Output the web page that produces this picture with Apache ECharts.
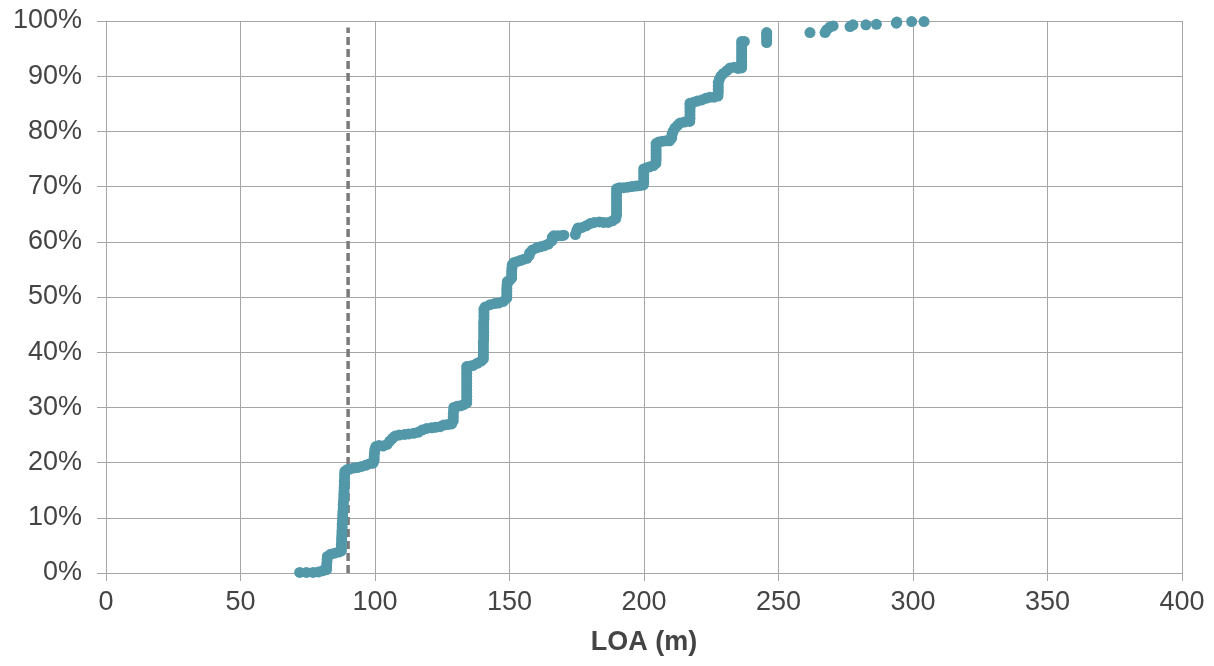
<!DOCTYPE html>
<html>
<head>
<meta charset="utf-8">
<script src="https://cdn.jsdelivr.net/npm/echarts@6/dist/echarts.min.js"></script>
<style>
  html, body { margin: 0; padding: 0; background: #fff; }
  #chart { width: 1214px; height: 666px; }
</style>
</head>
<body>
<div id="chart"></div>
<script>
// ship length (m) and cumulative share of ships (%)
const loa = [
  72.0, 74.5, 77.0, 79.0, 80.5, 82.0,
  82.0, 82.1, 82.2, 82.3, 83.5, 85.0, 86.5, 87.5,
  87.5, 87.5, 87.6, 87.6, 87.7, 87.7, 87.8, 87.8, 87.9, 88.0, 88.0, 88.1, 88.2, 88.2, 88.3, 88.4, 88.4, 88.5, 88.5, 88.6, 88.6, 88.7, 88.7, 88.8,
  89.5, 90.5, 92.0, 93.5, 95.0, 96.5, 98.0, 99.3,
  99.7, 99.7, 99.8, 99.9, 100.3, 101.5, 103.0, 104.5, 105.5, 106.5, 107.5, 109.0, 111.0, 112.5, 114.3, 116.0, 117.5, 119.2, 121.0, 122.5, 124.2, 125.5, 127.0, 128.5,
  129.1, 129.1, 129.1, 129.2, 129.3, 130.5, 131.8, 133.0, 134.1,
  134.1, 134.1, 134.1, 134.1, 134.1, 134.1, 134.1, 134.1, 134.1, 134.1, 134.1,
  135.5, 136.5, 138.0, 139.5, 140.3,
  140.3, 140.3, 140.3, 140.3, 140.3, 140.4, 140.4, 140.4, 140.4, 140.4, 140.4, 140.5, 140.5, 140.5, 140.5,
  141.0, 142.8, 144.5, 146.0, 147.7,
  149.0, 149.0, 149.0, 149.0, 149.1, 149.2, 150.0, 150.8, 150.8, 150.8, 150.9, 151.0, 151.5, 152.7, 154.0, 155.1, 156.5, 157.3, 157.5, 158.5, 160.1, 161.5, 163.0, 164.5, 165.8, 165.9, 166.5, 168.0, 169.4, 170.2,
  174.5, 175.0, 175.5, 177.0, 178.5, 180.0, 181.5, 183.4, 185.0, 186.7, 188.3, 189.5,
  189.8, 189.8, 189.8, 189.8, 189.8, 189.8, 189.8, 189.8, 189.8,
  191.0, 192.5, 194.0, 195.5, 197.0, 198.5, 199.8,
  199.9, 199.9, 199.9, 199.9, 199.9, 201.0, 202.3, 203.5, 204.4,
  204.5, 204.5, 204.5, 204.5, 204.5, 204.5, 205.5, 206.8, 208.2, 209.5, 210.3, 210.4, 210.8, 211.5, 212.5, 213.4, 215.0, 217.0,
  217.1, 217.1, 217.1, 217.1, 217.1, 217.1, 218.5, 219.8, 221.5, 223.0, 224.5, 226.0, 227.5,
  227.6, 227.6, 227.6, 227.6, 228.0, 228.6, 229.5, 230.8, 232.0, 233.5, 235.0, 236.3,
  236.3, 236.3, 236.3, 236.3, 236.3, 236.3, 236.3, 236.3, 237.3,
  245.6, 245.6, 245.6, 245.6, 245.6,
  261.7, 267.3, 267.9, 269.1, 270.3, 276.6, 277.7, 282.5, 286.4, 293.8, 294.0, 299.5, 304.1
];
const cumPct = [
  0.1, 0.1, 0.1, 0.2, 0.4, 0.6,
  1.2, 1.8, 2.4, 3.0, 3.4, 3.6, 3.8, 4.0,
  4.6, 5.2, 5.8, 6.4, 7.0, 7.6, 8.2, 8.8, 9.4, 10.0, 10.6, 11.2, 11.8, 12.4, 13.0, 13.6, 14.2, 14.8, 15.4, 16.0, 16.6, 17.2, 17.8, 18.4,
  18.7, 18.8, 19.0, 19.1, 19.3, 19.5, 19.8, 19.9,
  20.5, 21.1, 21.7, 22.3, 22.9, 23.1, 23.0, 23.3, 23.9, 24.4, 24.8, 25.0, 25.1, 25.2, 25.3, 25.5, 25.9, 26.2, 26.3, 26.4, 26.5, 26.8, 26.9, 27.0,
  27.6, 28.2, 28.8, 29.4, 30.0, 30.2, 30.3, 30.5, 30.8,
  31.4, 32.0, 32.6, 33.2, 33.8, 34.4, 35.0, 35.6, 36.2, 36.8, 37.4,
  37.5, 37.6, 38.0, 38.4, 38.8,
  39.4, 40.0, 40.6, 41.2, 41.8, 42.4, 43.0, 43.6, 44.2, 44.8, 45.4, 46.0, 46.6, 47.2, 47.8,
  48.2, 48.6, 48.8, 48.9, 49.2,
  49.8, 50.4, 51.0, 51.6, 52.2, 52.8, 53.0, 53.4, 54.0, 54.6, 55.2, 55.8, 56.2, 56.4, 56.6, 56.8, 57.0, 57.5, 58.0, 58.5, 58.9, 59.1, 59.3, 59.6, 60.2, 60.8, 61.1, 61.1, 61.1, 61.2,
  61.3, 62.0, 62.5, 62.6, 62.9, 63.3, 63.5, 63.6, 63.5, 63.5, 63.8, 64.2,
  64.8, 65.4, 66.0, 66.6, 67.2, 67.8, 68.4, 69.0, 69.6,
  69.8, 69.8, 69.9, 70.0, 70.1, 70.2, 70.3,
  70.9, 71.5, 72.1, 72.7, 73.2, 73.4, 73.6, 73.8, 74.2,
  74.8, 75.4, 76.0, 76.6, 77.2, 77.8, 78.1, 78.2, 78.3, 78.3, 78.8, 79.4, 80.0, 80.6, 81.1, 81.5, 81.7, 81.8,
  82.4, 83.0, 83.6, 84.2, 84.8, 85.1, 85.3, 85.5, 85.7, 86.0, 86.2, 86.2, 86.4,
  87.0, 87.6, 88.2, 88.8, 89.4, 90.0, 90.5, 91.0, 91.5, 91.6, 91.4, 91.5,
  92.1, 92.7, 93.3, 93.9, 94.5, 95.1, 95.7, 96.3, 96.3,
  96.1, 96.6, 97.1, 97.6, 97.9,
  97.9, 97.9, 98.4, 98.9, 99.1, 99.0, 99.3, 99.3, 99.4, 99.6, 99.8, 99.9, 99.9
];
const xTicks = [0, 50, 100, 150, 200, 250, 300, 350, 400];
const yTicks = [0, 10, 20, 30, 40, 50, 60, 70, 80, 90, 100];
const markerLoa = [90, 90];
const markerPct = [0, 98.8];

const points = loa.map((v, i) => [v, cumPct[i]]);
const refLine = markerLoa.map((v, i) => [v, markerPct[i]]);

const gridColor = '#a6a6a6';
const labelColor = '#444';
const font = '"Liberation Sans", Arial, sans-serif';

const chart = echarts.init(document.getElementById('chart'));
chart.setOption({
  animation: false,
  grid: { left: 106, right: 32, top: 21, bottom: 93 },
  xAxis: {
    type: 'value',
    min: xTicks[0], max: xTicks[xTicks.length - 1], interval: 50,
    name: 'LOA (m)',
    nameLocation: 'middle',
    nameGap: 56,
    nameTextStyle: { fontFamily: font, fontSize: 27, fontWeight: 'bold', color: labelColor },
    axisLine: { show: true, lineStyle: { color: gridColor, width: 1 } },
    axisTick: { show: true, length: 8, lineStyle: { color: gridColor } },
    axisLabel: { margin: 16, fontFamily: font, fontSize: 27, color: labelColor },
    splitLine: { show: true, lineStyle: { color: gridColor, width: 1 } }
  },
  yAxis: {
    type: 'value',
    min: yTicks[0], max: yTicks[yTicks.length - 1], interval: 10,
    axisLine: { show: true, lineStyle: { color: gridColor, width: 1 } },
    axisTick: { show: true, length: 9, lineStyle: { color: gridColor } },
    axisLabel: { margin: 24, fontFamily: font, fontSize: 27, color: labelColor, formatter: '{value}%' },
    splitLine: { show: true, lineStyle: { color: gridColor, width: 1 } }
  },
  series: [
    {
      type: 'line',
      data: refLine,
      symbol: 'none',
      lineStyle: { color: '#7a7a7a', width: 3.5, type: [8, 4] },
      z: 1
    },
    {
      type: 'scatter',
      data: points,
      symbol: 'circle',
      symbolSize: 11,
      itemStyle: { color: '#5298a9', opacity: 1 },
      z: 2
    }
  ]
});
</script>
</body>
</html>
